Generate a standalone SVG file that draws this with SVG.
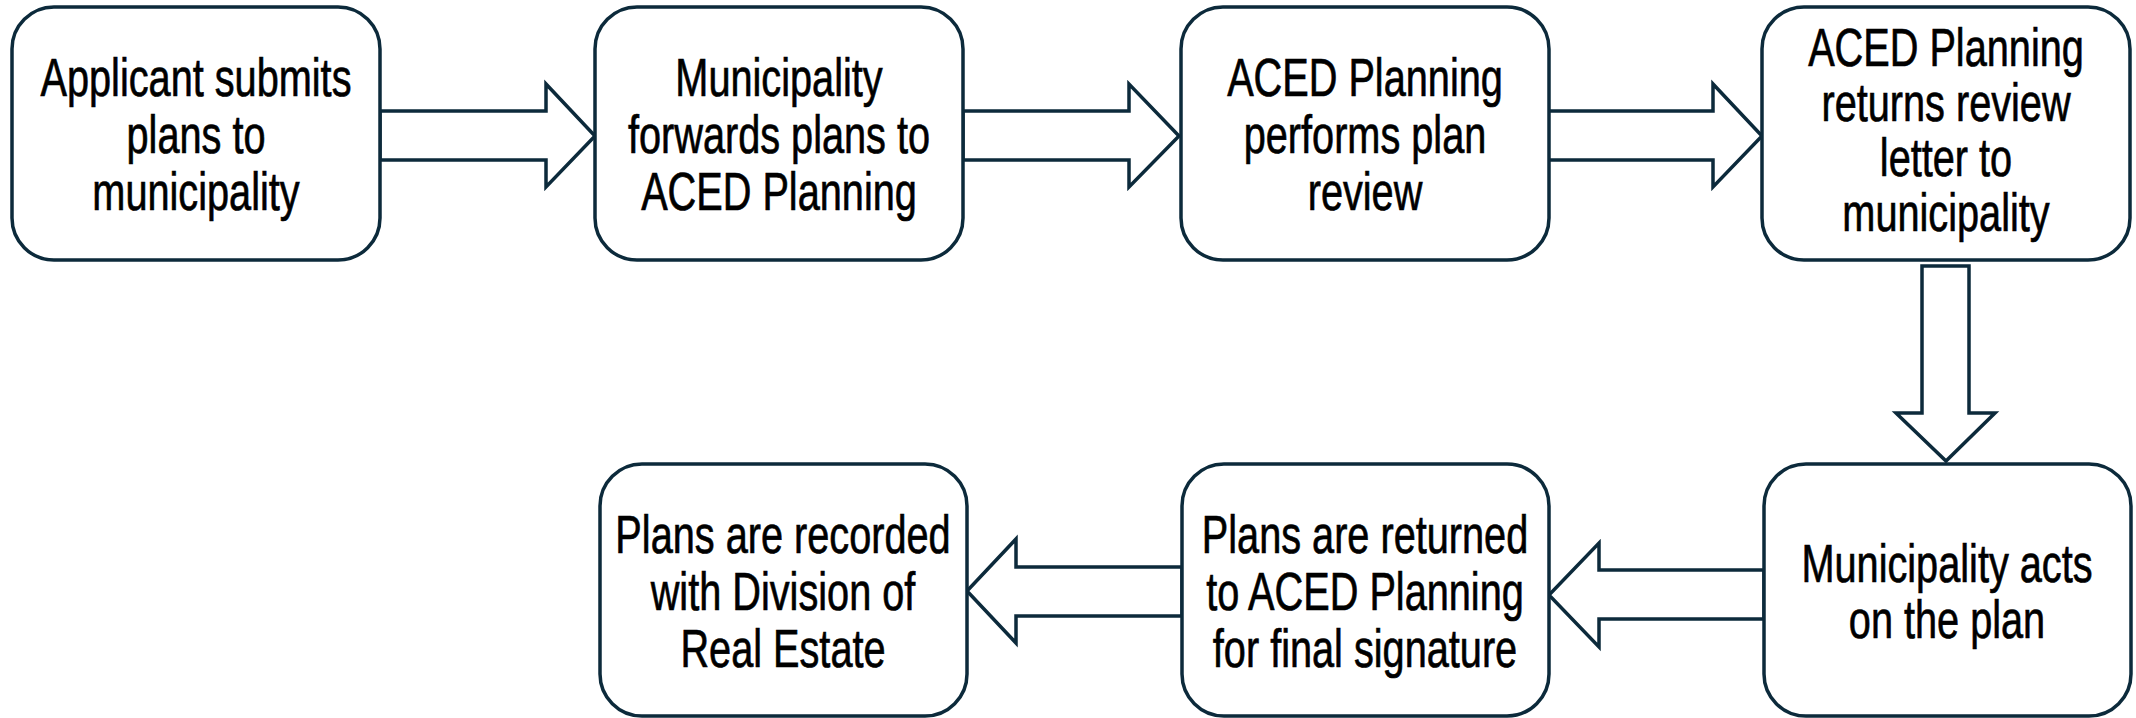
<svg xmlns="http://www.w3.org/2000/svg" width="2136" height="718" viewBox="0 0 2136 718">
<style>
.box{fill:#ffffff;stroke:#0C2A3B;stroke-width:3.5}
.arr{fill:#ffffff;stroke:#0C2A3B;stroke-width:3.5;stroke-linejoin:miter}
.t{font-family:"Liberation Sans",Arial,sans-serif;font-size:54px;fill:#000000;stroke:#000000;stroke-width:0.7;text-anchor:middle}
</style>
<rect width="2136" height="718" fill="#ffffff"/>
<g id="connectors">
<polygon class="arr" points="380,111 546,111 546,84 595,136 546,187 546,160 380,160"/>
<polygon class="arr" points="963,111 1129,111 1129,84 1179,136 1129,187 1129,160 963,160"/>
<polygon class="arr" points="1547,111 1713,111 1713,84 1762,136 1713,187 1713,160 1547,160"/>
<polygon class="arr" points="1922,266 1969,266 1969,413 1995,413 1946,461 1896,413 1922,413"/>
<polygon class="arr" points="1764,570 1599,570 1599,543 1549,595 1599,647 1599,619 1764,619"/>
<polygon class="arr" points="1182,567 1016,567 1016,539 967,591 1016,643 1016,616 1182,616"/>
</g>
<g id="n1">
<rect class="box" x="12" y="7" width="368" height="253" rx="42"/>
<g transform="translate(196,0) scale(0.735,1)"><text class="t" x="0" y="96">Applicant submits</text><text class="t" x="0" y="153">plans to</text><text class="t" x="0" y="210">municipality</text></g>
</g>
<g id="n2">
<rect class="box" x="595" y="7" width="368" height="253" rx="42"/>
<g transform="translate(779,0) scale(0.735,1)"><text class="t" x="0" y="96">Municipality</text><text class="t" x="0" y="153">forwards plans to</text><text class="t" x="0" y="210">ACED Planning</text></g>
</g>
<g id="n3">
<rect class="box" x="1181" y="7" width="368" height="253" rx="42"/>
<g transform="translate(1365,0) scale(0.735,1)"><text class="t" x="0" y="96">ACED Planning</text><text class="t" x="0" y="153">performs plan</text><text class="t" x="0" y="210">review</text></g>
</g>
<g id="n4">
<rect class="box" x="1762" y="7" width="368" height="253" rx="42"/>
<g transform="translate(1946,0) scale(0.735,1)"><text class="t" x="0" y="66">ACED Planning</text><text class="t" x="0" y="121">returns review</text><text class="t" x="0" y="176">letter to</text><text class="t" x="0" y="231">municipality</text></g>
</g>
<g id="n5">
<rect class="box" x="1764" y="464" width="367" height="252" rx="42"/>
<g transform="translate(1947,0) scale(0.735,1)"><text class="t" x="0" y="582">Municipality acts</text><text class="t" x="0" y="638">on the plan</text></g>
</g>
<g id="n6">
<rect class="box" x="1182" y="464" width="367" height="252" rx="42"/>
<g transform="translate(1365,0) scale(0.735,1)"><text class="t" x="0" y="553">Plans are returned</text><text class="t" x="0" y="610">to ACED Planning</text><text class="t" x="0" y="667">for final signature</text></g>
</g>
<g id="n7">
<rect class="box" x="600" y="464" width="367" height="252" rx="42"/>
<g transform="translate(783,0) scale(0.735,1)"><text class="t" x="0" y="553">Plans are recorded</text><text class="t" x="0" y="610">with Division of</text><text class="t" x="0" y="667">Real Estate</text></g>
</g>
</svg>
